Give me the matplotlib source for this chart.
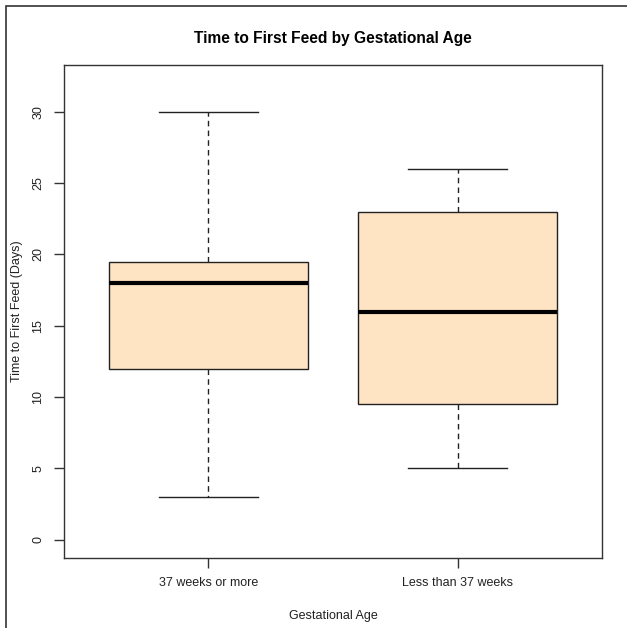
import matplotlib
matplotlib.use("Agg")
import matplotlib.pyplot as plt
from matplotlib.patches import Rectangle

plt.rcParams['font.family'] = ['Liberation Sans', 'DejaVu Sans']

categories = ["37 weeks or more", "Less than 37 weeks"]
whislo = [3, 5]
q1 = [12, 9.5]
med = [18, 16]
q3 = [19.5, 23]
whishi = [30, 26]

W, H = 627, 628
fig = plt.figure(figsize=(W / 100, H / 100), dpi=100)
ax = fig.add_axes([64 / W, (H - 558) / H, (602 - 64) / W, (558 - 65) / H])

stats = []
for i, c in enumerate(categories):
    stats.append(dict(label=c, whislo=whislo[i], q1=q1[i], med=med[i], q3=q3[i], whishi=whishi[i], fliers=[]))

ax.bxp(stats, positions=[1, 2], widths=0.8, patch_artist=True, showfliers=False,
       boxprops=dict(facecolor='#FFE4C4', edgecolor='#222222', linewidth=1.0),
       medianprops=dict(color='black', linewidth=3.0, solid_capstyle='butt'),
       whiskerprops=dict(color='#222222', linewidth=1.0, linestyle=(0, (4, 3))),
       capprops=dict(color='#222222', linewidth=1.0),
       capwidths=0.4)

ax.set_xlim(0.42, 2.58)
ax.set_ylim(-1.28, 33.28)
ax.set_yticks([0, 5, 10, 15, 20, 25, 30])
ax.set_yticklabels([str(v) for v in [0, 5, 10, 15, 20, 25, 30]], rotation=90, va='center')
ax.set_xticks([1, 2])
ax.set_xticklabels(categories)
ax.tick_params(axis='both', length=7, width=1, color='#333333', labelsize=9, labelcolor='#222222', pad=7)
for s in ax.spines.values():
    s.set_color('#333333')
    s.set_linewidth(1.0)

ax.set_title("Time to First Feed by Gestational Age", fontsize=11.2, fontweight='bold', pad=16)
ax.set_xlabel("Gestational Age", fontsize=9, color='#222222')
ax.xaxis.set_label_coords(0.5, -0.105)
ax.set_ylabel("Time to First Feed (Days)", fontsize=9, color='#222222')
ax.yaxis.set_label_coords(-0.076, 0.5)

fig.patches.append(Rectangle((6 / W, -0.1), 1.2, 1 - 6 / H + 0.1, transform=fig.transFigure,
                             fill=False, edgecolor='#333333', linewidth=1.2))

fig.savefig("out.png", dpi=100)
